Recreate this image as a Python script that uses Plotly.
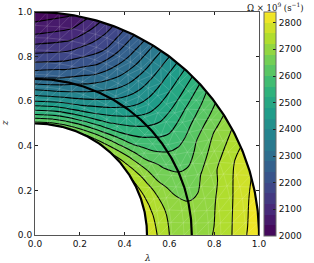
import numpy as np
import plotly.graph_objects as go

# polar sampling of the field
radii = [0.5, 0.55, 0.6, 0.65, 0.7, 0.75, 0.8, 0.85, 0.9, 0.95, 1.0]
thetas = [0, 10, 20, 30, 40, 50, 60, 70, 80, 90]
omega_t00 = [2655, 2538, 2440, 2362, 2285, 2225, 2175, 2125, 2080, 2045, 2000]
omega_t10 = [2660, 2545, 2447, 2365, 2298, 2243, 2193, 2148, 2108, 2072, 2038]
omega_t20 = [2672, 2562, 2465, 2398, 2342, 2293, 2250, 2215, 2188, 2170, 2155]
omega_t30 = [2690, 2592, 2505, 2450, 2403, 2368, 2343, 2325, 2310, 2300, 2290]
omega_t40 = [2712, 2632, 2558, 2512, 2478, 2455, 2445, 2443, 2445, 2448, 2450]
omega_t50 = [2737, 2675, 2612, 2575, 2552, 2540, 2545, 2555, 2568, 2583, 2600]
omega_t60 = [2760, 2708, 2660, 2630, 2614, 2612, 2625, 2650, 2672, 2690, 2708]
omega_t70 = [2773, 2735, 2692, 2668, 2656, 2660, 2687, 2712, 2738, 2762, 2785]
omega_t80 = [2785, 2748, 2715, 2697, 2688, 2696, 2712, 2735, 2762, 2790, 2815]
omega_t90 = [2790, 2757, 2720, 2702, 2695, 2704, 2723, 2743, 2772, 2803, 2830]
boundary_radii = [0.5, 0.7, 1.0]
mesh_radii = [0.5, 0.555, 0.61, 0.665, 0.72, 0.775, 0.83, 0.885, 0.94, 1.0]
cbar_ticks = [2000, 2100, 2200, 2300, 2400, 2500, 2600, 2700, 2800]
axis_ticks = [0.0, 0.2, 0.4, 0.6, 0.8, 1.0]

Z = np.array([omega_t00, omega_t10, omega_t20, omega_t30, omega_t40,
              omega_t50, omega_t60, omega_t70, omega_t80, omega_t90])
R, T = np.meshgrid(radii, np.radians(thetas))
X = R * np.sin(T)
Y = R * np.cos(T)

W, H = 314, 263
L, Rt, Tp, Bt = 35, 258.7, 11.5, 235

fig = go.Figure()
hidden = dict(showgrid=False, showticklabels="none", startline=False, endline=False,
              minorgridcount=0, smoothing=1, showline=False, tickmode="array", tickvals=[])
fig.add_trace(go.Carpet(carpet="c", a=radii, b=thetas, x=X.tolist(), y=Y.tolist(),
                        aaxis=hidden, baxis=hidden))
contour_levels = dict(start=2000, end=2840, size=40)
fig.add_trace(go.Contourcarpet(
    carpet="c", a=radii, b=thetas, z=Z.tolist(), autocontour=False, zmin=2000, zmax=2840,
    contours=dict(coloring="fill", showlines=False, **contour_levels),
    line=dict(width=0), colorscale="Viridis",
    colorbar=dict(x=(264 - L) / (Rt - L), xanchor="left", xpad=0, y=1.0, yanchor="top", ypad=0,
                  lenmode="pixels", len=Bt - Tp, thicknessmode="pixels", thickness=11.5,
                  outlinecolor="#666", outlinewidth=1, ticks="inside", ticklen=3,
                  tickcolor="#222", tickvals=cbar_ticks,
                  tickfont=dict(family="DejaVu Sans", size=9, color="#111"))))

# faint triangular mesh
mx, my = [], []
rings = []
for r in mesh_radii:
    n = int(round(np.pi / 2 * r / 0.055))
    rings.append((r, np.linspace(0, np.pi / 2, n + 1)))
for k, (r, t) in enumerate(rings):
    mx += list(r * np.sin(t)) + [None]
    my += list(r * np.cos(t)) + [None]
    if k + 1 < len(rings):
        r2, t2 = rings[k + 1]
        for a in t:
            for idx in np.argsort(np.abs(t2 - a))[:2]:
                mx += [r * np.sin(a), r2 * np.sin(t2[idx]), None]
                my += [r * np.cos(a), r2 * np.cos(t2[idx]), None]
fig.add_trace(go.Scatter(x=mx, y=my, mode="lines", line=dict(color="rgba(255,255,255,0.2)", width=0.7),
                         hoverinfo="skip"))

fig.add_trace(go.Contourcarpet(
    carpet="c", a=radii, b=thetas, z=Z.tolist(), autocontour=False,
    contours=dict(coloring="none", showlines=True, **contour_levels),
    line=dict(color="black", width=1.1, smoothing=1), showscale=False))

th = np.radians(np.arange(0, 90.5, 0.5))
for r in boundary_radii:
    fig.add_trace(go.Scatter(x=r * np.sin(th), y=r * np.cos(th), mode="lines",
                             line=dict(color="black", width=2.2), hoverinfo="skip"))

ax = dict(range=[0, 1], ticks="inside", ticklen=3, tickcolor="#222", tickvals=axis_ticks,
          tickformat=".1f", showgrid=False, zeroline=False, showline=True, linecolor="#555",
          linewidth=1, mirror="allticks", automargin=False,
          tickfont=dict(family="DejaVu Sans", size=9, color="#111"))
serif = dict(family="DejaVu Serif", color="#111")
fig.update_layout(
    width=W, height=H, autosize=False, showlegend=False,
    paper_bgcolor="white", plot_bgcolor="white",
    margin=dict(l=L, r=W - Rt, t=Tp, b=H - Bt, pad=0, autoexpand=False),
    xaxis=dict(ax), yaxis=dict(ax),
    annotations=[
        dict(text="Ω × 10<sup>9</sup> (s<sup>−1</sup>)", xref="paper", yref="paper",
             x=1.0 + (306 - Rt) / (Rt - L), y=1.0, xanchor="right", yanchor="bottom", yshift=-3,
             showarrow=False, font=dict(size=8.5, **serif)),
        dict(text="<i>λ</i>", xref="paper", yref="paper", x=(147 - L) / (Rt - L),
             y=-(258 - Bt) / (Bt - Tp), xanchor="center", yanchor="middle",
             showarrow=False, font=dict(size=9, **serif)),
        dict(text="<i>z</i>", xref="paper", yref="paper", x=-(L - 5) / (Rt - L),
             y=(Bt - 123) / (Bt - Tp), xanchor="center", yanchor="middle", textangle=-90,
             showarrow=False, font=dict(size=9, **serif)),
    ],
)
fig.write_html("out.html", config=dict(displayModeBar=False),
               post_script="document.body.style.margin='0';document.documentElement.style.overflow='hidden';")
